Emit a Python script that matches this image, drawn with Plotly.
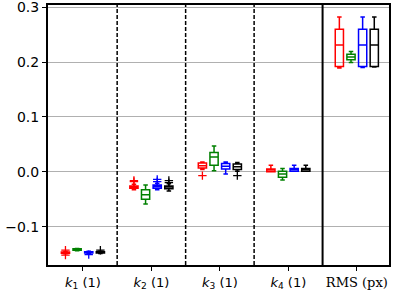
import plotly.graph_objects as go

# ---- data ----
groups = ["k1", "k2", "k3", "k4", "RMS"]
tick_labels = ["<i>k</i><sub>1</sub> (1)", "<i>k</i><sub>2</sub> (1)",
               "<i>k</i><sub>3</sub> (1)", "<i>k</i><sub>4</sub> (1)",
               "<span style='font-family:DejaVu Serif'>RMS (px)</span>"]

series_names = ["red", "green", "blue", "black"]
series_colors = ["#ff0000", "#008000", "#0000ff", "#000000"]

# per series: lists over the 5 groups
lowf = {
    "red":   [-0.1495, -0.033, 0.004, 0.000, 0.189],
    "green": [-0.1440, -0.059, 0.002, -0.015, 0.199],
    "blue":  [-0.1490, -0.033, -0.004, 0.001, 0.190],
    "black": [-0.1490, -0.035, 0.001, 0.001, 0.191],
}
q1 = {
    "red":   [-0.1485, -0.030, 0.007, 0.000, 0.192],
    "green": [-0.1430, -0.050, 0.012, -0.010, 0.204],
    "blue":  [-0.1480, -0.030, 0.005, 0.001, 0.192],
    "black": [-0.1480, -0.031, 0.004, 0.001, 0.192],
}
med = {
    "red":   [-0.1475, -0.028, 0.011, 0.003, 0.231],
    "green": [-0.1420, -0.042, 0.027, -0.004, 0.209],
    "blue":  [-0.1470, -0.027, 0.010, 0.004, 0.231],
    "black": [-0.1470, -0.028, 0.009, 0.004, 0.231],
}
q3 = {
    "red":   [-0.1465, -0.026, 0.016, 0.005, 0.260],
    "green": [-0.1405, -0.033, 0.035, 0.001, 0.214],
    "blue":  [-0.1460, -0.024, 0.015, 0.006, 0.260],
    "black": [-0.1460, -0.026, 0.014, 0.006, 0.260],
}
upf = {
    "red":   [-0.1455, -0.023, 0.018, 0.012, 0.282],
    "green": [-0.1400, -0.024, 0.047, 0.006, 0.219],
    "blue":  [-0.1450, -0.021, 0.018, 0.012, 0.282],
    "black": [-0.1450, -0.022, 0.017, 0.012, 0.282],
}
# outliers: (group index, value)
fliers = {
    "red":   [(0, -0.1430), (0, -0.1520), (1, -0.018), (1, -0.016), (2, -0.007)],
    "green": [],
    "blue":  [(0, -0.1510), (1, -0.018), (1, -0.014)],
    "black": [(0, -0.1430), (1, -0.020), (1, -0.016), (2, -0.007)],
}
offsets = [-0.255, -0.085, 0.085, 0.255]

fig = go.Figure()
for si, name in enumerate(series_names):
    col = series_colors[si]
    xs = [g + offsets[si] for g in range(len(groups))]
    fig.add_trace(go.Box(
        x=xs, q1=q1[name], median=med[name], q3=q3[name],
        lowerfence=lowf[name], upperfence=upf[name],
        width=0.12, whiskerwidth=0.55, boxpoints=False,
        line=dict(color=col, width=1.5), fillcolor="rgba(0,0,0,0)",
        name=name, showlegend=False, hoverinfo="skip"))
    if fliers[name]:
        fig.add_trace(go.Scatter(
            x=[g + offsets[si] for g, v in fliers[name]],
            y=[v for g, v in fliers[name]],
            mode="markers", showlegend=False, hoverinfo="skip",
            marker=dict(symbol="cross-thin", size=6,
                        line=dict(color=col, width=1.3))))

# separators
for xv in [0.5, 1.5, 2.5]:
    fig.add_shape(type="line", xref="x", yref="paper", x0=xv, x1=xv, y0=0, y1=1,
                  line=dict(color="black", width=1.5, dash="4px,2px"))
fig.add_shape(type="line", xref="x", yref="paper", x0=3.5, x1=3.5, y0=0, y1=1,
              line=dict(color="black", width=2))

fig.update_layout(
    width=399, height=290,
    margin=dict(l=48, r=10, t=5, b=25),
    paper_bgcolor="white", plot_bgcolor="white",
    boxmode="overlay",
    font=dict(family="DejaVu Sans", size=14, color="black"),
)
fig.update_xaxes(
    range=[-0.51, 4.47], tickvals=list(range(len(groups))), ticktext=tick_labels,
    showgrid=False, zeroline=False, showline=True, linecolor="black", linewidth=2,
    mirror=True, ticks="outside", ticklen=4, tickcolor="black",
    tickfont=dict(size=13), automargin=False, ticklabeloverflow="allow")
fig.update_yaxes(
    range=[-0.170, 0.304], tickvals=[-0.1, 0.0, 0.1, 0.2, 0.3],
    ticktext=["\u22120.1", "0.0", "0.1", "0.2", "0.3"],
    showgrid=True, gridcolor="#b0b0b0", gridwidth=1, zeroline=False,
    showline=True, linecolor="black", linewidth=2, mirror=True,
    ticks="outside", ticklen=4, tickcolor="black", tickfont=dict(size=14),
    automargin=False, ticklabeloverflow="allow")

fig.write_html("out.html", config={"displayModeBar": False},
               post_script="document.body.style.margin='0px';document.body.style.overflow='hidden';")
